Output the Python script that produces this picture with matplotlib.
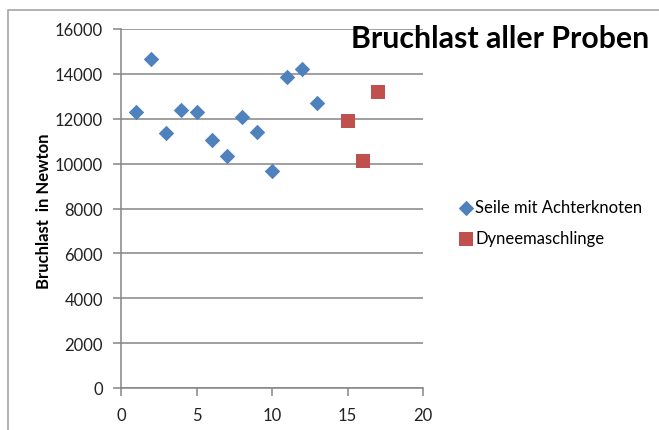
import matplotlib
matplotlib.use("Agg")
import matplotlib.pyplot as plt
import matplotlib.patches as patch

# Probe number and breaking load (N)
knoten_x = [1, 2, 3, 4, 5, 6, 7, 8, 9, 10, 11, 12, 13]
knoten_y = [12300, 14650, 11380, 12400, 12280, 11060, 10320, 12090, 11420, 9670, 13860, 14220, 12710]
dyneema_x = [15, 16, 17]
dyneema_y = [11920, 10100, 13180]

yticks = [0, 2000, 4000, 6000, 8000, 10000, 12000, 14000, 16000]
xticks = [0, 5, 10, 15, 20]

blue = '#4F81BD'
red = '#C0504D'
grey = '#858585'

plt.rcParams['font.family'] = ['Lato', 'DejaVu Sans']

fig = plt.figure(figsize=(6.59, 4.31), dpi=100)
W, H = 659.0, 431.0

# outer chart frame (runs off the right/bottom of the picture)
fig.patches.append(patch.Rectangle((8 / W, -0.05), 1.0, 1.05 - 11 / H,
                                   transform=fig.transFigure, fill=False,
                                   edgecolor='#a6a6a6', linewidth=1.2))

ax = fig.add_axes([121 / W, (H - 389) / H, (423 - 121) / W, (389 - 30) / H])
ax.scatter(knoten_x, knoten_y, marker='D', s=62, color=blue,
           linewidths=0, label='Seile mit Achterknoten', zorder=3)
ax.scatter(dyneema_x, dyneema_y, marker='s', s=115, color=red,
           linewidths=0, label='Dyneemaschlinge', zorder=3)

ax.set_xlim(0, 20)
ax.set_ylim(0, 16000)
ax.set_xticks(xticks)
ax.set_yticks(yticks)
ax.yaxis.grid(True, color=grey, linewidth=1.1)
ax.set_axisbelow(True)
for s in ['top', 'right']:
    ax.spines[s].set_visible(False)
for s in ['left', 'bottom']:
    ax.spines[s].set_color(grey)
    ax.spines[s].set_linewidth(1.1)
ax.tick_params(axis='both', direction='out', length=6, width=1.1,
               color=grey, labelsize=12, labelcolor='#222222')
ax.tick_params(axis='y', pad=7)
ax.tick_params(axis='x', pad=8)

fig.text(44 / W, (H - 211) / H, 'Bruchlast  in Newton', rotation=90,
         ha='center', va='center', fontsize=12, fontweight='bold')
fig.text(649 / W, (H - 48) / H, 'Bruchlast aller Proben', ha='right',
         va='baseline', fontsize=21.8, fontweight='bold')

fig.legend(loc='center left', bbox_to_anchor=(461 / W, (H - 224) / H),
           frameon=False, fontsize=12, handlelength=0.6, handletextpad=0.25,
           labelspacing=0.9, borderpad=0, borderaxespad=0, scatterpoints=1)

fig.savefig('out.png', dpi=100)
